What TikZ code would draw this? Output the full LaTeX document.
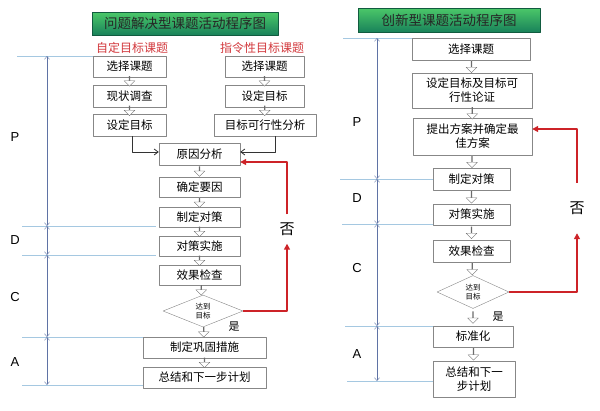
\documentclass[tikz,border=0pt]{standalone}
\usepackage{fontspec}
\setmainfont{Noto Sans CJK SC}
\newfontfamily\pdcafont{Liberation Sans}
\usetikzlibrary{shapes.geometric,shapes.arrows,arrows.meta}
\definecolor{boxgray}{RGB}{135,135,135}
\definecolor{backred}{RGB}{205,35,40}
\definecolor{axisblue}{RGB}{95,115,165}
\definecolor{guideblue}{RGB}{165,200,225}
\definecolor{bannerlight}{RGB}{75,200,105}
\definecolor{bannerdark}{RGB}{25,130,90}
\begin{document}
\begin{tikzpicture}[x=1pt, y=-1pt, line join=round,
	stepbox/.style={draw=boxgray, fill=white, inner sep=0pt, align=center, font=\fontsize{11.5}{14}\selectfont},
	checkbox/.style={draw=boxgray, fill=white, diamond, inner sep=0pt, align=center, font=\fontsize{7.5}{9}\selectfont},
	banner/.style={draw=bannerdark!70!black, text=black!85, font=\fontsize{13.5}{15}\selectfont,
		path picture={\shade[top color=bannerlight, bottom color=bannerdark] (path picture bounding box.south west) rectangle (path picture bounding box.north east);}},
	harrow/.style={single arrow, draw=boxgray!80!black, fill=white, inner sep=0pt, minimum width=11pt, single arrow head extend=2.5pt, minimum height=#1, shape border rotate=270},
	harrow/.default=10pt,
	axis/.style={axisblue, thin, {Straight Barb[length=3pt,width=5pt]}-{Straight Barb[length=3pt,width=5pt]}},
	guide/.style={guideblue, thin},
	flow/.style={black!80, thick, -{Straight Barb[length=4pt,width=6pt]}},
	back/.style={backred, line width=1.6pt, -{Triangle[length=6pt,width=6pt]}},
	pdca/.style={font=\pdcafont\fontsize{13}{15}\selectfont}]
\useasboundingbox (0,0) rectangle (600,410);
\node[banner, minimum width=186pt, minimum height=23pt] (tl) at (185,23.5) {问题解决型课题活动程序图};
\node[text=backred!90, font=\fontsize{12}{14}\selectfont] (self) at (132,48) {自定目标课题};
\node[text=backred!90, font=\fontsize{12}{14}\selectfont] (cmd) at (262,48) {指令性目标课题};
\node[stepbox, minimum width=73pt, minimum height=21pt] (la1) at (129.5,66.5) {选择课题};
\node[stepbox, minimum width=73pt, minimum height=22pt] (la2) at (129.5,96) {现状调查};
\node[stepbox, minimum width=73pt, minimum height=22pt] (la3) at (129.5,125) {设定目标};
\node[stepbox, minimum width=79pt, minimum height=21pt] (lb1) at (264.5,66.5) {选择课题};
\node[stepbox, minimum width=79pt, minimum height=22pt] (lb2) at (264.5,96) {设定目标};
\node[stepbox, minimum width=102pt, minimum height=22pt] (lb3) at (265,125) {目标可行性分析};
\node[stepbox, minimum width=81pt, minimum height=22pt] (cause) at (199.5,154) {原因分析};
\node[stepbox, minimum width=81pt, minimum height=20pt] (key) at (199.5,187.5) {确定要因};
\node[stepbox, minimum width=81pt, minimum height=20pt] (plan) at (199.5,217) {制定对策};
\node[stepbox, minimum width=81pt, minimum height=20pt] (act) at (199.5,246) {对策实施};
\node[stepbox, minimum width=81pt, minimum height=20pt] (check) at (199.5,275) {效果检查};
\node[checkbox, minimum width=80pt, minimum height=32pt] (goal) at (203,311) {达到\\目标};
\node[stepbox, minimum width=123pt, minimum height=21pt] (fix) at (204.5,347.5) {制定巩固措施};
\node[stepbox, minimum width=123pt, minimum height=21pt] (sum) at (204.5,377.5) {总结和下一步计划};
\node[font=\fontsize{11}{13}\selectfont] at (234,327) {是};
\node[font=\fontsize{15}{17}\selectfont, inner sep=0pt, minimum height=29pt] (no) at (287,229) {否};
\foreach \a/\b in {la1/la2,la2/la3,lb1/lb2,lb2/lb3,cause/key,key/plan,plan/act,act/check,check/goal,goal/fix,fix/sum}
	\path (\a.south) -- (\b.north) node[midway, harrow]{};
\draw[flow] ([xshift=3pt]la3.south) |- ([yshift=2pt]cause.west);
\draw[flow] ([xshift=10pt]lb3.south) |- ([yshift=2pt]cause.east);
\draw[back] (goal.east) -| (no.south);
\draw[back] (no.north) |- ([yshift=-8pt]cause.east);
\foreach \y/\a in {56/17,226/22,255/22,337/22,385/22}\draw[guide] (\a,\y) -- (\ifnum\y<100 93\else\ifnum\y<300 156\else 143\fi\fi,\y);
\foreach \s/\e in {56/226,226/255,255/337,337/385}\draw[axis] (47,\s) -- (47,\e);
\node[pdca] at (15,137) {P};
\node[pdca] at (15,240) {D};
\node[pdca] at (15,297) {C};
\node[pdca] at (15,362) {A};
\node[banner, minimum width=182pt, minimum height=24pt] (tr) at (449,20) {创新型课题活动程序图};
\node[stepbox, minimum width=118pt, minimum height=22pt] (ra1) at (471,49) {选择课题};
\node[stepbox, minimum width=120pt, minimum height=35pt] (ra2) at (472,90.5) {设定目标及目标可\\行性论证};
\node[stepbox, minimum width=119pt, minimum height=37pt] (ra3) at (472.5,136.5) {提出方案并确定最\\佳方案};
\node[stepbox, minimum width=77pt, minimum height=22pt] (ra4) at (471.5,179) {制定对策};
\node[stepbox, minimum width=77pt, minimum height=21pt] (ra5) at (471.5,214.5) {对策实施};
\node[stepbox, minimum width=77pt, minimum height=22pt] (ra6) at (471.5,251) {效果检查};
\node[checkbox, minimum width=72pt, minimum height=33pt] (rgoal) at (473,292) {达到\\目标};
\node[stepbox, minimum width=80pt, minimum height=21pt] (ra7) at (473,336.5) {标准化};
\node[stepbox, minimum width=82pt, minimum height=36pt] (ra8) at (474,379) {总结和下一\\步计划};
\node[font=\fontsize{11}{13}\selectfont] at (498,317) {是};
\node[font=\fontsize{15}{17}\selectfont, inner sep=0pt, minimum height=50pt] (rno) at (577,208) {否};
\foreach \a/\b in {ra1/ra2,ra2/ra3,ra3/ra4,ra4/ra5,ra5/ra6,ra6/rgoal,rgoal/ra7,ra7/ra8}
	\path (\a.south) -- (\b.north) node[midway, harrow=12pt]{};
\draw[back] (rgoal.east) -| (rno.south);
\draw[back] (rno.north) |- ([yshift=7.5pt]ra3.east);
\foreach \y/\a/\b in {38/343/412,179/340/433,224/342/433,326/345/433,381/347/433}\draw[guide] (\a,\y) -- (\b,\y);
\foreach \s/\e in {38/179,179/224,224/326,326/381}\draw[axis] (377,\s) -- (377,\e);
\node[pdca] at (357,122) {P};
\node[pdca] at (357,198) {D};
\node[pdca] at (357,268) {C};
\node[pdca] at (357,354) {A};
\end{tikzpicture}
\end{document}
